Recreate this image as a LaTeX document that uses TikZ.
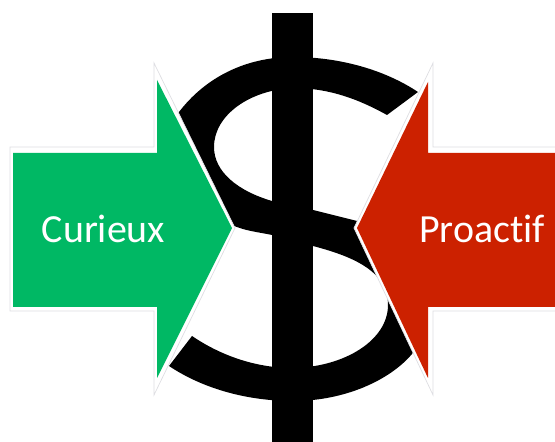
\documentclass[tikz,border=0pt]{standalone}
\usepackage{fontspec}
\setmainfont[Ligatures=NoCommon]{Carlito}
\definecolor{curieuxgreen}{RGB}{0,184,100}
\definecolor{proactifred}{RGB}{204,33,0}
\definecolor{halogrey}{RGB}{222,222,226}
\tikzset{
  halo/.style={draw=halogrey, line width=0.4pt, fill=white},
  label/.style={text=white, anchor=base, inner sep=0pt, font=\fontsize{22.7pt}{26pt}\selectfont},
}
\begin{document}
\begin{tikzpicture}[x=0.02cm, y=-0.02cm]
	%%%%% START %%%%%
	\useasboundingbox (0, 0) rectangle (555, 442);
	
	\fill[black] (418, 92) .. controls (385, 70) and (340, 57) .. (293, 57)
		.. controls (245, 57) and (205, 78) .. (179, 112)
		.. controls (165, 135) and (185, 205) .. (232, 225)
		.. controls (245, 231) and (258, 232) .. (272, 235)
		-- (313, 246)
		.. controls (355, 257) and (388, 272) .. (388, 305)
		.. controls (388, 340) and (345, 367) .. (293, 368)
		.. controls (255, 368) and (220, 355) .. (192, 336)
		-- (169, 366)
		.. controls (205, 390) and (250, 401) .. (293, 401)
		.. controls (345, 401) and (390, 380) .. (412, 354)
		.. controls (425, 335) and (425, 280) .. (395, 250)
		-- (365, 223) -- (313, 210) -- (272, 201)
		.. controls (238, 191) and (214, 172) .. (214, 147)
		.. controls (214, 115) and (250, 90) .. (293, 88)
		.. controls (330, 88) and (360, 100) .. (387, 115)
		-- cycle;
	\fill[black] (272, 13) rectangle (313, 442);
	
	\draw[halo] (10, 147) -- (154, 147) -- (154, 63) -- (235, 228) -- (154, 395) -- (154, 311) -- (10, 311) -- cycle;
	\fill[curieuxgreen] (13, 153) -- (157, 153) -- (157, 80) -- (232, 228) -- (157, 378) -- (157, 307) -- (13, 307) -- cycle;
	
	\draw[halo] (556, 147) -- (433, 147) -- (433, 63) -- (354, 228) -- (433, 395) -- (433, 311) -- (556, 311);
	\fill[proactifred] (555, 153) -- (428, 153) -- (428, 82) -- (357, 228) -- (428, 378) -- (428, 307) -- (555, 307) -- cycle;
	
	\node[label] (curieux) at (103.5, 243) {Curieux};
	\node[label] (proactif) at (482, 243) {Proactif};
	%%%%% END %%%%%
\end{tikzpicture}
\end{document}
